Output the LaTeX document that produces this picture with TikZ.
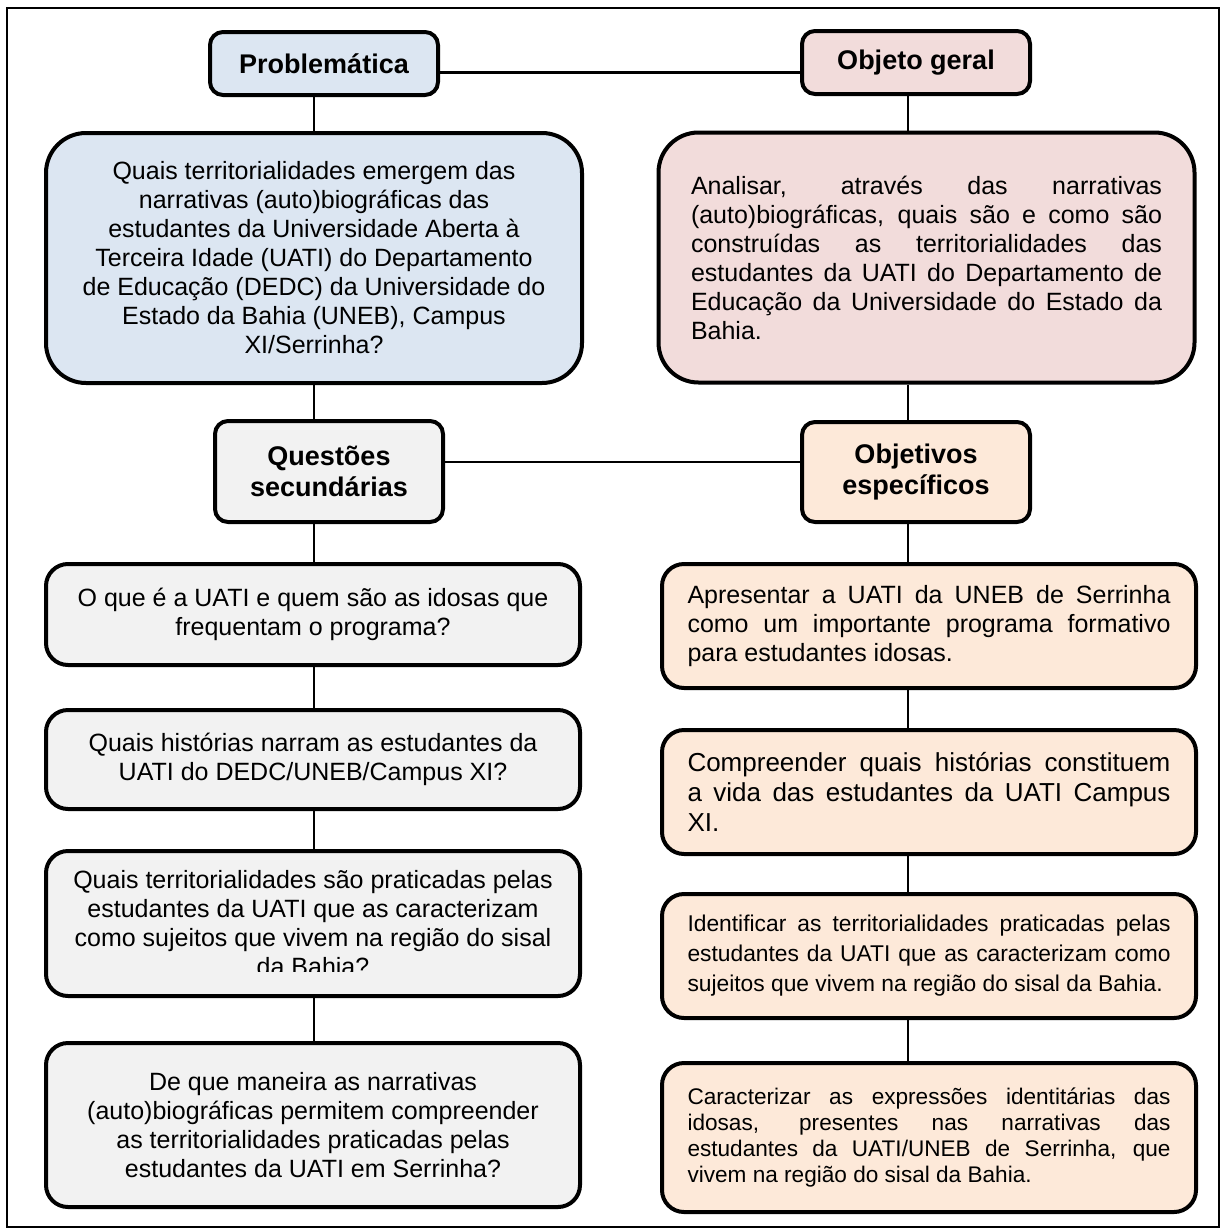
\documentclass[tikz,border=0pt]{standalone}
\usepackage{fontspec}
\setmainfont{Liberation Sans}
\definecolor{azul}{HTML}{DCE6F2}
\definecolor{rosa}{HTML}{F2DCDB}
\definecolor{cinza}{HTML}{F2F2F2}
\definecolor{pessego}{HTML}{FDE9D9}
\tolerance=10000
\hyphenpenalty=10000

\begin{document}
\begin{tikzpicture}[x=0.5pt,y=-0.5pt,
 titulo/.style={draw,line width=2pt,rounded corners=6.5pt,minimum width=114pt,align=center,font=\bfseries\fontsize{13.5}{15.5}\selectfont},
 grande/.style={draw,line width=2pt,rounded corners=20pt,minimum width=268pt,minimum height=125pt,font=\fontsize{12.5}{14.5}\selectfont},
 caixa/.style={draw,line width=2pt,rounded corners=11pt,minimum width=267pt,font=\fontsize{12.5}{14.5}\selectfont},
 justo/.style={text width=241.5pt,align=justify},
 liga/.style={line width=1.3pt}]
\useasboundingbox (0,0) rectangle (1221,1231);
\draw[line width=1pt] (7,8) rectangle (1219,1227);
\coordinate (colL) at (314,0);
\coordinate (colR) at (908,0);
\node[titulo,fill=azul,minimum height=31.5pt] (prob) at (324,63.5) {Problemática};
\node[titulo,fill=rosa,minimum height=31.5pt] (obj) at (916,62.5) {Objeto geral};
\node[grande,fill=azul,align=center] (probq) at (314,258) {Quais territorialidades emergem das\\narrativas (auto)biográficas das\\estudantes da Universidade Aberta à\\Terceira Idade (UATI) do Departamento\\de Educação (DEDC) da Universidade do\\Estado da Bahia (UNEB), Campus\\XI/Serrinha?};
\node[grande,fill=rosa,text width=235.5pt,align=justify] (objq) at (926.5,257.5) {Analisar, através das narrativas\linebreak (auto)biográficas, quais são e como são\linebreak construídas as territorialidades das\linebreak estudantes da UATI do Departamento de\linebreak Educação da Universidade do Estado da\linebreak Bahia.};
\node[titulo,fill=cinza,minimum height=50.5pt] (quest) at (329,471.5) {Questões\\secundárias};
\node[titulo,fill=pessego,minimum height=50pt] (objesp) at (916,472) {Objetivos\\específicos};
\node[caixa,fill=cinza,align=center,minimum height=50.5pt] (l1) at (313,614.5) {O que é a UATI e quem são as idosas que\\frequentam o programa?};
\node[caixa,fill=cinza,align=center,minimum height=49.5pt] (l2) at (313,759.5) {Quais histórias narram as estudantes da\\UATI do DEDC/UNEB/Campus XI?};
\node[caixa,fill=cinza,align=center,minimum height=72.5pt] (l3) at (313,923.5) {Quais territorialidades são praticadas pelas\\estudantes da UATI que as caracterizam\\como sujeitos que vivem na região do sisal\\da Bahia?};
\fill[cinza] ([xshift=-60pt,yshift=2pt]l3.south) rectangle ([xshift=60pt,yshift=13pt]l3.south);
\node[caixa,fill=cinza,align=center,minimum height=82pt] (l4) at (313,1125) {De que maneira as narrativas\\(auto)biográficas permitem compreender\\as territorialidades praticadas pelas\\estudantes da UATI em Serrinha?};
\node[caixa,justo,fill=pessego,minimum height=62pt] (r1) at (929,626) {Apresentar a UATI da UNEB de Serrinha\linebreak como um importante programa formativo\linebreak para estudantes idosas.};
\node[caixa,justo,fill=pessego,minimum height=62pt,font=\fontsize{13}{15}\selectfont] (r2) at (929,792) {Compreender quais histórias constituem\linebreak a vida das estudantes da UATI Campus\linebreak XI.};
\node[caixa,justo,fill=pessego,minimum height=62pt,font=\fontsize{11.4}{15}\selectfont] (r3) at (929,956) {Identificar as territorialidades praticadas pelas\linebreak estudantes da UATI que as caracterizam como\linebreak sujeitos que vivem na região do sisal da Bahia.};
\node[caixa,justo,fill=pessego,minimum height=74.5pt,font=\fontsize{11.3}{13}\selectfont] (r4) at (929,1137.5) {Caracterizar as expressões identitárias das\linebreak idosas, presentes nas narrativas das\linebreak estudantes da UATI/UNEB de Serrinha, que\linebreak vivem na região do sisal da Bahia.};
\draw[liga] ([yshift=-4.5pt]prob.east) -- ([yshift=-4.5pt]prob.east -| obj.west);
\draw[liga] ([yshift=4.75pt]quest.east) -- ([yshift=4.75pt]quest.east -| objesp.west);
\foreach \a/\b in {prob/probq,probq/quest,quest/l1,l1/l2,l2/l3,l3/l4}
  \draw[liga] (\a.south -| colL) -- (\b.north -| colL);
\foreach \a/\b in {obj/objq,objq/objesp,objesp/r1,r1/r2,r2/r3,r3/r4}
  \draw[liga] (\a.south -| colR) -- (\b.north -| colR);
\end{tikzpicture}
\end{document}
